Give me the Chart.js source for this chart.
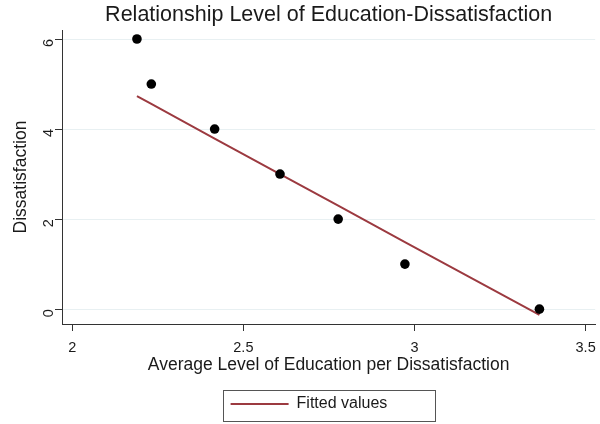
<!DOCTYPE html>
<html>
<head>
<meta charset="utf-8">
<script src="https://cdn.jsdelivr.net/npm/chart.js@4.4.1/dist/chart.umd.min.js"></script>
<style>
  html, body { margin: 0; padding: 0; background: #ffffff; }
  #wrap { width: 600px; height: 424px; }
</style>
</head>
<body>
<div id="wrap"><canvas id="c" width="600" height="424"></canvas></div>
<script>
// Average level of education for each dissatisfaction score
const education = [2.189, 2.231, 2.416, 2.607, 2.777, 2.972, 3.365];
const dissatisfaction = [6, 5, 4, 3, 2, 1, 0];
// Fitted values of the linear regression at each observation
const fitted = [4.73, 4.56, 3.79, 3.00, 2.30, 1.49, -0.13];
const xTicks = [2, 2.5, 3, 3.5];
const yTicks = [0, 2, 4, 6];

const FONT = '"Liberation Sans", Arial, sans-serif';
const INK = '#1a1a1a';

// Centre the title and legend on the plot region, and frame the legend
const plotAlign = {
  id: 'plotAlign',
  afterLayout(chart) {
    const a = chart.chartArea;
    const t = chart.titleBlock;
    if (t) { t.left = a.left; t.right = a.right; t.width = a.right - a.left; }
    const lg = chart.legend;
    if (lg) {
      const cx = (a.left + a.right) / 2;
      lg.left = cx - 98 - lg.options.labels.padding;
    }
  },
  afterDraw(chart) {
    const a = chart.chartArea;
    const lg = chart.legend;
    const cx = (a.left + a.right) / 2;
    const ctx = chart.ctx;
    ctx.save();
    ctx.strokeStyle = '#555555';
    ctx.lineWidth = 1;
    ctx.strokeRect(Math.round(cx - 106) + 0.5, Math.round(lg.top) + 0.5, 212, Math.round(lg.height) - 1);
    ctx.restore();
  }
};

new Chart(document.getElementById('c'), {
  data: {
    datasets: [
      {
        type: 'line',
        label: 'Fitted values',
        data: education.map((x, i) => ({ x: x, y: fitted[i] })),
        borderColor: '#9c3a40',
        backgroundColor: '#9c3a40',
        borderWidth: 2,
        pointRadius: 0,
        fill: false,
        order: 2
      },
      {
        type: 'scatter',
        label: 'Dissatisfaction',
        data: education.map((x, i) => ({ x: x, y: dissatisfaction[i] })),
        backgroundColor: '#000000',
        borderColor: '#000000',
        pointRadius: 4.8,
        pointBorderWidth: 0,
        order: 1
      }
    ]
  },
  options: {
    responsive: false,
    animation: false,
    layout: { padding: { left: 0, right: 0, top: 0, bottom: 2 } },
    plugins: {
      title: {
        display: true,
        text: 'Relationship Level of Education-Dissatisfaction',
        color: INK,
        font: { family: FONT, size: 21.5, weight: 'normal', lineHeight: 1.2 },
        padding: { top: 2, bottom: 2.2 }
      },
      legend: {
        display: true,
        position: 'bottom',
        align: 'start',
        labels: {
          filter: (item) => item.text === 'Fitted values',
          usePointStyle: true,
          pointStyle: 'line',
          pointStyleWidth: 58,
          color: INK,
          font: { family: FONT, size: 16 },
          padding: 6
        }
      },
      tooltip: { enabled: false }
    },
    scales: {
      x: {
        type: 'linear',
        position: 'bottom',
        min: 1.970,
        max: 3.528,
        afterBuildTicks: (s) => { s.ticks = xTicks.map(v => ({ value: v })); },
        afterFit: (s) => { s.height = 66; s.paddingLeft = 0; s.paddingRight = 0; },
        grid: { display: true, drawOnChartArea: false, drawTicks: true, tickLength: 7, tickColor: '#333333' },
        border: { display: true, color: '#333333', width: 1 },
        ticks: { color: INK, font: { family: FONT, size: 14.5 }, padding: 8, maxRotation: 0,
                 callback: (v) => String(v) },
        title: {
          display: true,
          text: 'Average Level of Education per Dissatisfaction',
          color: INK,
          font: { family: FONT, size: 17.5 },
          padding: { top: 14, bottom: 14 }
        }
      },
      y: {
        type: 'linear',
        position: 'left',
        min: -0.33,
        max: 6.2,
        afterBuildTicks: (s) => { s.ticks = yTicks.map(v => ({ value: v })); },
        afterFit: (s) => { s.width = 62; s.paddingTop = 0; s.paddingBottom = 0; },
        grid: { display: true, color: '#e8f0f2', lineWidth: 1, drawTicks: true, tickLength: 7, tickColor: '#333333' },
        border: { display: true, color: '#333333', width: 1 },
        ticks: { color: INK, font: { family: FONT, size: 14.5 }, padding: 6, minRotation: 90, maxRotation: 90,
                 callback: (v) => String(v) },
        title: {
          display: true,
          text: 'Dissatisfaction',
          color: INK,
          font: { family: FONT, size: 17.5 },
          padding: { top: 11, bottom: 11 }
        }
      }
    }
  },
  plugins: [plotAlign]
});
</script>
</body>
</html>
